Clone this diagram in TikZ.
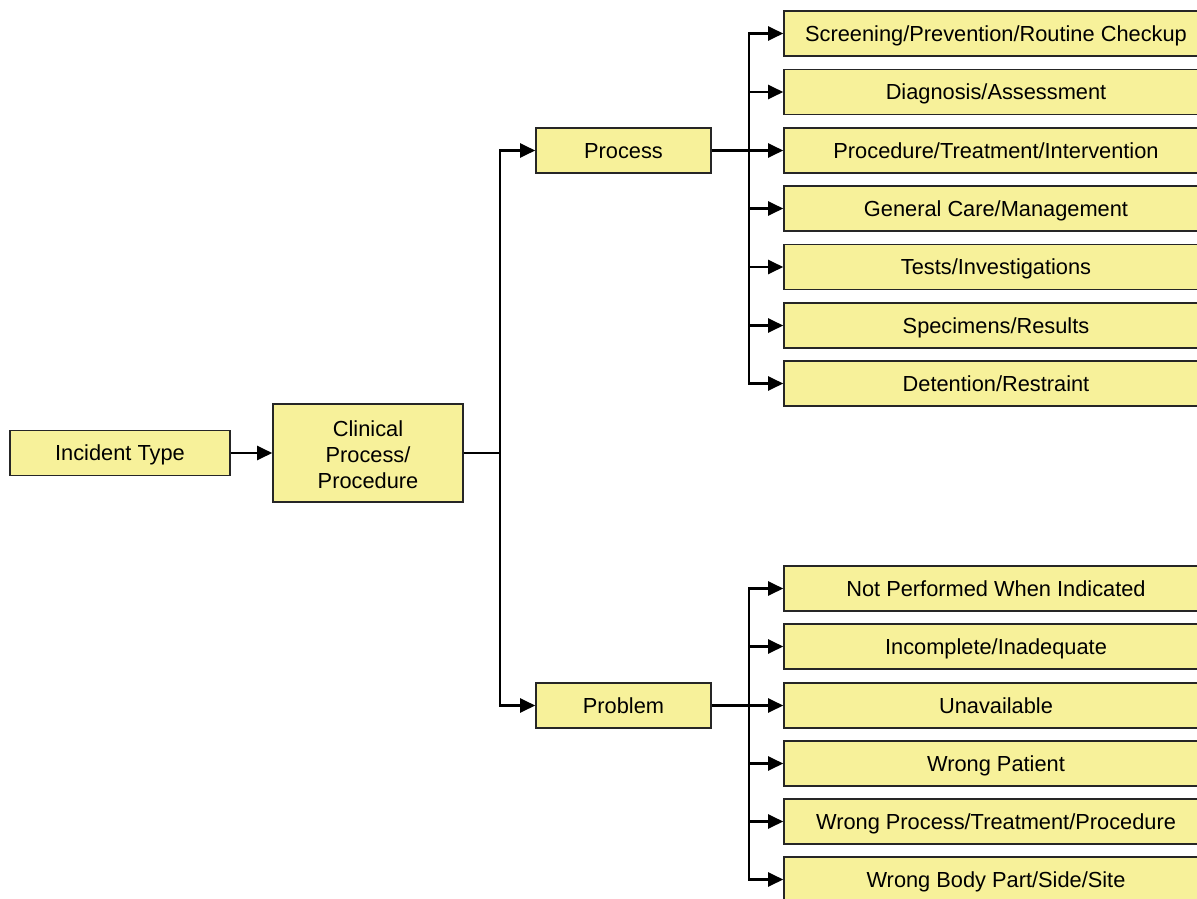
\documentclass[tikz,border=0pt]{standalone}
\usepackage{fontspec}
\setmainfont{Liberation Sans}
\usetikzlibrary{arrows.meta}
\definecolor{boxfill}{RGB}{247,241,154}
\tikzset{
  box/.style={draw=black!85, fill=boxfill, line width=1.6pt, inner sep=0pt, align=center,
    font=\fontsize{21.8pt}{26pt}\selectfont},
  one/.style={box, text height=15.6pt, text depth=0pt},
  leaf/.style={one, minimum width=424pt, minimum height=45pt},
  mid/.style={one, minimum width=175pt, minimum height=45pt},
  conn/.style={line width=2.2pt, -{Triangle[length=15pt,width=14pt]}},
  plain/.style={line width=2.2pt}
}
\begin{document}
\begin{tikzpicture}[x=1pt,y=-1pt]
\clip (0,0) rectangle (1197,899);
\fill[white] (0,0) rectangle (1197,899);
\node[one, minimum width=220pt, minimum height=45pt] (inc) at (120,453) {Incident Type};
\node[box, minimum width=190pt, minimum height=98pt] (clin) at (368,453) {};
\node[box, draw=none, fill=none] at (368,455) {Clinical\\Process/\\Procedure};
\node[mid] (proc) at (623.5,150.5) {Process};
\node[mid] (prob) at (623.5,705.5) {Problem};

\node[leaf] (a1) at (996,33.5) {Screening/Prevention/Routine Checkup};
\node[leaf] (a2) at (996,92) {Diagnosis/Assessment};
\node[leaf] (a3) at (996,150.5) {Procedure/Treatment/Intervention};
\node[leaf] (a4) at (996,208.5) {General Care/Management};
\node[leaf] (a5) at (996,267) {Tests/Investigations};
\node[leaf] (a6) at (996,325.5) {Specimens/Results};
\node[leaf] (a7) at (996,383.5) {Detention/Restraint};

\node[leaf] (b1) at (996,588.5) {Not Performed When Indicated};
\node[leaf] (b2) at (996,646.5) {Incomplete/Inadequate};
\node[leaf] (b3) at (996,705.5) {Unavailable};
\node[leaf] (b4) at (996,763.5) {Wrong Patient};
\node[leaf] (b5) at (996,821.5) {Wrong Process/Treatment/Procedure};
\node[leaf] (b6) at (996,879.5) {Wrong Body Part/Side/Site};

\draw[conn] (inc.east) -- (clin.west);
\coordinate (t) at ([xshift=36pt]clin.east);
\draw[plain] (clin.east) -- (t);
\draw[conn] (t) |- (proc.west);
\draw[conn] (t) |- (prob.west);

\coordinate (pa) at ([xshift=37pt]proc.east);
\draw[plain] (proc.east) -- (pa);
\foreach \n in {a1,a2,a3,a4,a5,a6,a7} \draw[conn] (pa) |- (\n.west);

\coordinate (pb) at ([xshift=37pt]prob.east);
\draw[plain] (prob.east) -- (pb);
\foreach \n in {b1,b2,b3,b4,b5,b6} \draw[conn] (pb) |- (\n.west);
\end{tikzpicture}
\end{document}
